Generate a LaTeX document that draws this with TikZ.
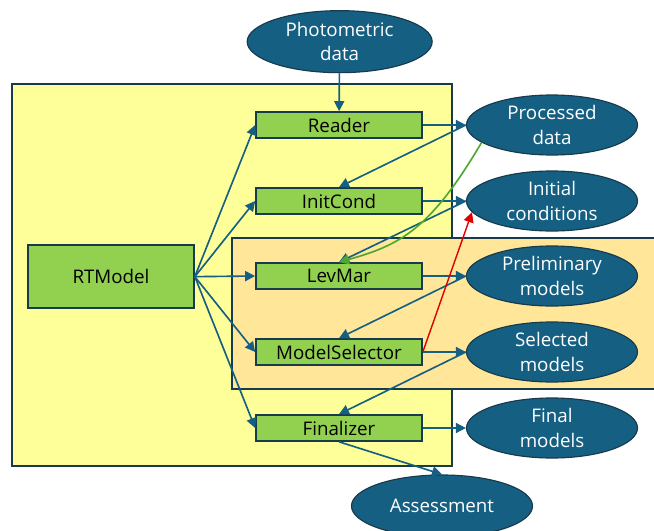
\documentclass[tikz,border=0pt]{standalone}
\usepackage{fontspec}
\setmainfont{Open Sans}
\usetikzlibrary{shapes.geometric, arrows.meta}
\definecolor{dblue}{HTML}{156082}
\definecolor{edge}{HTML}{173A4C}
\definecolor{lgreen}{HTML}{92D050}
\definecolor{lyellow}{HTML}{FFFF99}
\definecolor{lorange}{HTML}{FFE699}
\definecolor{cgreen}{HTML}{4EA72E}
\definecolor{cred}{HTML}{E00000}
\tikzset{>={Triangle[length=3mm, width=3mm]}}

\begin{document}
\begin{tikzpicture}[font=\fontsize{16}{21}\selectfont,
    proc/.style={draw=edge, line width=1.4pt, fill=lgreen, minimum width=4.98cm, minimum height=0.78cm, inner sep=0pt},
    data/.style={ellipse, draw=edge, line width=1pt, fill=dblue, text=white, minimum width=5.13cm, minimum height=1.8cm, inner sep=0pt, align=center},
    flow/.style={->, dblue, line width=1.4pt}]
     \useasboundingbox (0,0) rectangle (19.62,-15.93);
     % grouping boxes
     \draw[edge, line width=1.4pt, fill=lyellow] (0.36,-2.52) rectangle (13.56,-13.98);
     \draw[edge, line width=1.4pt, fill=lorange] (6.96,-7.14) rectangle (19.9,-11.67);
     % classes
     \node[proc, minimum height=1.89cm] (rt) at (3.33,-8.3) {RTModel};
     \node[proc] (reader) at (10.17,-3.75) {Reader};
     \node[proc] (init) at (10.17,-6.03) {InitCond};
     \node[proc] (levmar) at (10.17,-8.28) {LevMar};
     \node[proc] (select) at (10.17,-10.56) {ModelSelector};
     \node[proc] (final) at (10.17,-12.84) {Finalizer};
     % data products
     \node[data, minimum width=5.55cm, minimum height=1.86cm] (photo) at (10.19,-1.25) {Photometric\\data};
     \node[data] (procd) at (16.56,-3.75) {Processed\\data};
     \node[data] (initc) at (16.56,-6.03) {Initial\\conditions};
     \node[data] (prelim) at (16.56,-8.28) {Preliminary\\models};
     \node[data] (selm) at (16.56,-10.56) {Selected\\models};
     \node[data] (finm) at (16.56,-12.84) {Final\\models};
     \node[data, minimum width=5.43cm, minimum height=1.86cm] (assess) at (13.26,-15.18) {Assessment};
     % connectors
     \foreach \n in {reader, init, levmar, select, final}
          \draw[flow] (rt.east) -- (\n.west);
     \draw[flow] (photo) -- (reader);
     \draw[flow] (reader) -- (procd);
     \draw[flow] (init) -- (initc);
     \draw[flow] (levmar) -- (prelim);
     \draw[flow] (select) -- (selm);
     \draw[flow] (final) -- (finm);
     \draw[flow] (procd.west) -- (init.north);
     \draw[flow] (initc.west) -- (levmar.north);
     \draw[flow] (prelim.west) -- (select.north);
     \draw[flow] (selm.west) -- (final.north);
     \draw[flow] (final.south) -- (assess.north);
     \draw[->, cgreen, line width=1.4pt] (procd.194) .. controls (12.9,-6.9) and (12.0,-7.35) .. (levmar.north);
     \draw[->, cred, line width=1.2pt] (select.east) -- (initc.188);
\end{tikzpicture}
\end{document}
